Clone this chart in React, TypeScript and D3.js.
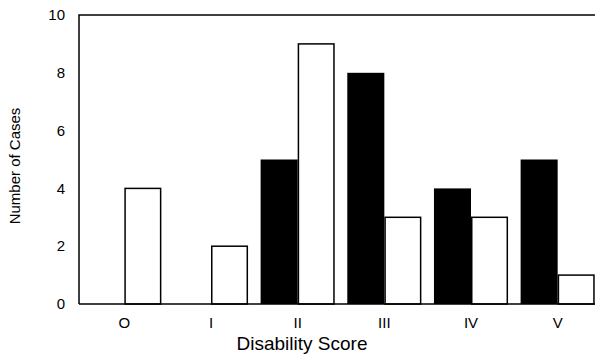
import React from 'react'
import * as d3 from 'd3'

const categories = ['O', 'I', 'II', 'III', 'IV', 'V']
const series = ['black', 'white']
const blackValues = [0, 0, 5, 8, 4, 5]
const whiteValues = [4, 2, 9, 3, 3, 1]
const yTicks = [0, 2, 4, 6, 8, 10]

const W = 595
const H = 357
const left = 79
const top = 15
const bottom = 304
const right = 601

export default function App() {
  const x = d3.scaleBand().domain(categories).range([left + 2, right]).paddingInner(0.145).paddingOuter(0.0725)
  const inner = d3.scaleBand().domain(series).range([0, x.bandwidth()])
  const y = d3.scaleLinear().domain([0, 10]).range([bottom, top])
  const font = 'Liberation Sans, Arial, Helvetica, sans-serif'

  const rows = categories.map((c, i) => ({ c, black: blackValues[i], white: whiteValues[i] }))

  return (
    <svg width={W} height={H} style={{ position: 'absolute', left: 0, top: 0 }} fontFamily={font} fill="#000">
      <rect width={W} height={H} fill="#fff" />
      {rows.map(r => (
        <g key={r.c} transform={`translate(${x(r.c)},0)`}>
          {r.black > 0 && (
            <rect
              x={inner('black')}
              y={y(r.black)}
              width={inner.bandwidth()}
              height={y(0) - y(r.black)}
              fill="#000"
            />
          )}
          <rect
            x={inner('white')! + 0.75}
            y={y(r.white)}
            width={inner.bandwidth() - 1.5}
            height={y(0) - y(r.white)}
            fill="#fff"
            stroke="#000"
            strokeWidth={1.5}
          />
        </g>
      ))}
      <path d={`M${left},${bottom}V${top}H${W}`} fill="none" stroke="#000" strokeWidth={1.5} />
      <line x1={left} x2={W} y1={bottom} y2={bottom} stroke="#000" strokeWidth={1.5} />
      {yTicks.map(t => (
        <text key={t} x={65} y={y(t)} dy="0.35em" textAnchor="end" fontSize={15}>
          {t}
        </text>
      ))}
      {categories.map(c => (
        <text key={c} x={x(c)! + x.bandwidth() / 2} y={323} dy="0.35em" textAnchor="middle" fontSize={15}>
          {c}
        </text>
      ))}
      <text x={302} y={350} textAnchor="middle" fontSize={19}>
        Disability Score
      </text>
      <text transform={`translate(20,166) rotate(-90)`} textAnchor="middle" fontSize={15}>
        Number of Cases
      </text>
    </svg>
  )
}
